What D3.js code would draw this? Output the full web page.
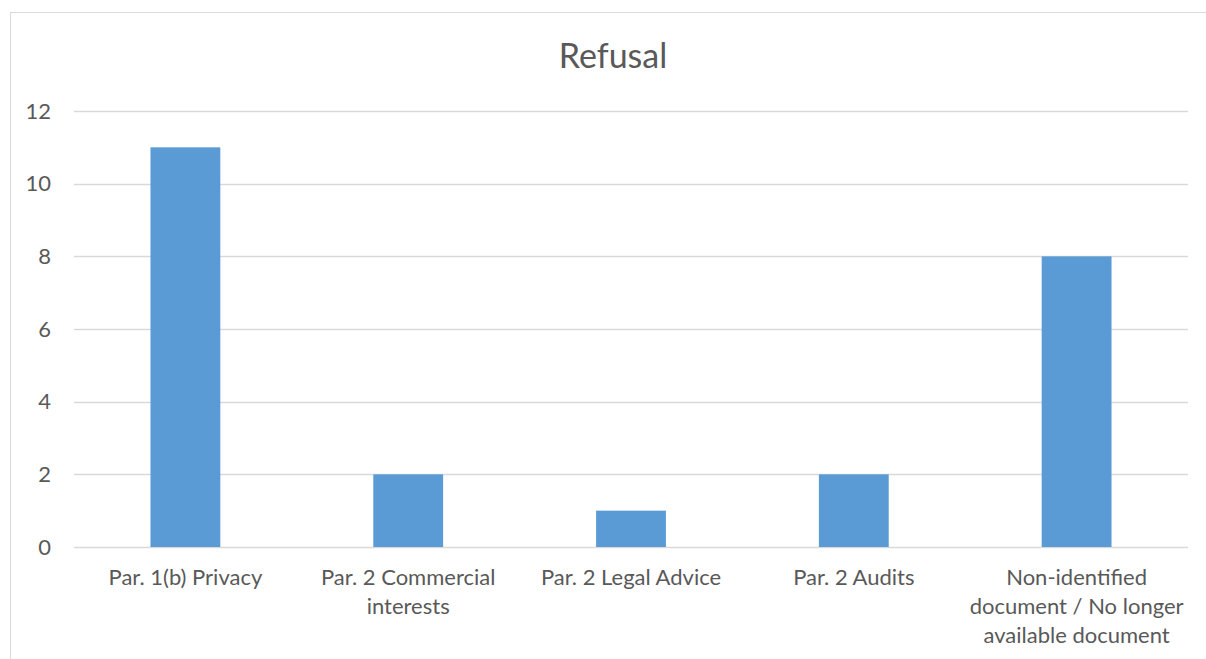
<html>
<script src='https://d3js.org/d3.v7.min.js'></script>
<style>
  body { margin: 0; background: #fff; }
  text { font-family: Lato, 'Open Sans', sans-serif; fill: #595959; }
</style>
<body onload='init()'>
<svg width=1206 height=659></svg>
<script>
var categories = ["Par. 1(b) Privacy", "Par. 2 Commercial interests", "Par. 2 Legal Advice", "Par. 2 Audits", "Non-identified document / No longer available document"];
var labelLines = [["Par. 1(b) Privacy"], ["Par. 2 Commercial", "interests"], ["Par. 2 Legal Advice"], ["Par. 2 Audits"], ["Non-identified", "document / No longer", "available document"]];
var values = [11, 2, 1, 2, 8];
var yTicks = [0, 2, 4, 6, 8, 10, 12];

function init()
{
    var svg = d3.select("svg");

    // chart frame
    svg.append("rect")
    .attr("x", 10.5).attr("y", 12.5)
    .attr("width", 1220).attr("height", 700)
    .attr("fill", "none").attr("stroke", "#d9d9d9");

    var x = d3.scaleBand().domain(categories).range([74, 1188]);
    var y = d3.scaleLinear().domain([0, 12]).range([547, 111]);

    // gridlines
    svg.append("g").selectAll("line")
    .data(yTicks)
    .enter()
    .append("line")
    .attr("x1", 74).attr("x2", 1188)
    .attr("y1", function(d) {return Math.round(y(d)) + 0.5;})
    .attr("y2", function(d) {return Math.round(y(d)) + 0.5;})
    .attr("stroke", "#d9d9d9").attr("stroke-width", 1.5);

    // y tick labels
    svg.append("g").selectAll("text")
    .data(yTicks)
    .enter()
    .append("text")
    .attr("x", 51)
    .attr("y", function(d) {return y(d);})
    .attr("dy", "0.35em")
    .attr("text-anchor", "end")
    .attr("font-size", 22)
    .text(function(d) {return d;});

    // bars
    var bw = x.bandwidth() / 3.19;
    svg.append("g").selectAll("rect")
    .data(values)
    .enter()
    .append("rect")
    .attr("x", function(d, i) {return x(categories[i]) + x.bandwidth() / 2 - bw / 2;})
    .attr("y", function(d) {return y(d);})
    .attr("width", bw)
    .attr("height", function(d) {return y(0) - y(d);})
    .attr("fill", "#5b9bd5");

    // x labels
    var lab = svg.append("g").selectAll("text")
    .data(labelLines)
    .enter()
    .append("text")
    .attr("text-anchor", "middle")
    .attr("font-size", 22)
    .attr("transform", function(d, i) {return "translate(" + (x(categories[i]) + x.bandwidth() / 2) + ",585)";});
    lab.selectAll("tspan")
    .data(function(d) {return d;})
    .enter()
    .append("tspan")
    .attr("x", 0)
    .attr("y", function(d, j) {return j * 29;})
    .text(function(d) {return d;});

    // title
    svg.append("text")
    .attr("x", 613).attr("y", 68)
    .attr("text-anchor", "middle")
    .attr("font-size", 34)
    .text("Refusal");
}
</script>
</body>
</html>
